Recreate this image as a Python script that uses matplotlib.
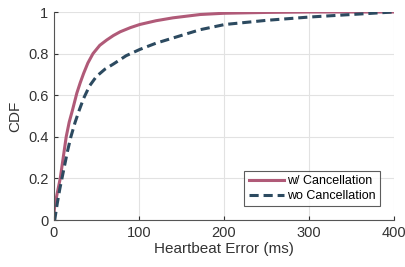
import numpy as np
import matplotlib
matplotlib.use("Agg")
import matplotlib.pyplot as plt

plt.rcParams['font.family'] = ['Liberation Sans', 'DejaVu Sans']

# CDF: error (ms) -> fraction
x_with = [0, 1, 4, 7.5, 11, 14.5, 18, 22, 27, 31, 35, 40, 46, 54, 62, 70, 78, 90, 101, 120, 140, 172, 200, 250, 300, 400]
cdf_with = [0.03, 0.065, 0.13, 0.20, 0.30, 0.40, 0.47, 0.53, 0.61, 0.66, 0.705, 0.755, 0.80, 0.84, 0.865, 0.887, 0.905, 0.925, 0.94, 0.958, 0.972, 0.988, 0.994, 0.998, 1.0, 1.0]

x_wo = [0, 1, 4, 7, 9.5, 13, 16, 20, 25, 30, 35, 42, 50, 60, 70, 85, 101, 120, 140, 172, 201, 250, 301, 350, 399]
cdf_wo = [0, 0.0, 0.08, 0.15, 0.20, 0.27, 0.33, 0.40, 0.47, 0.53, 0.585, 0.645, 0.69, 0.725, 0.75, 0.79, 0.82, 0.85, 0.875, 0.915, 0.94, 0.96, 0.976, 0.988, 1.0]

red = '#b05a78'
navy = '#2c4a60'

fig = plt.figure(figsize=(4.05, 2.67), dpi=100)
ax = fig.add_axes([0.133, 0.176, 0.840, 0.779])

ax.plot(x_with, cdf_with, color=red, lw=2.2, label='w/ Cancellation')
ax.plot(x_wo, cdf_wo, color=navy, lw=2.2, ls=(0, (3, 1.6)), label='wo Cancellation')

ax.set_xlim(0, 400)
ax.set_ylim(0, 1)
ax.set_xticks([0, 100, 200, 300, 400])
ax.set_yticks([0, 0.2, 0.4, 0.6, 0.8, 1])
ax.set_yticklabels(['0', '0.2', '0.4', '0.6', '0.8', '1'])
ax.grid(True, color='#e2e2e2', lw=0.8)
ax.set_axisbelow(True)
for s in ['top', 'right']:
    ax.spines[s].set_visible(False)
for s in ['left', 'bottom']:
    ax.spines[s].set_color('#555555')
ax.tick_params(direction='in', length=3, colors='#333333', labelsize=10.5, pad=4)
ax.set_xlabel('Heartbeat Error (ms)', fontsize=11, color='#333333', labelpad=2)
ax.set_ylabel('CDF', fontsize=11, color='#333333', labelpad=4)

leg = ax.legend(loc='lower right', bbox_to_anchor=(0.96, 0.065), fontsize=9,
                frameon=True, fancybox=False, handlelength=2.8, handletextpad=0.3,
                borderpad=0.35, labelspacing=0.25, borderaxespad=0)
leg.get_frame().set_edgecolor('#333333')
leg.get_frame().set_linewidth(0.8)

fig.savefig('out.png', dpi=100)
